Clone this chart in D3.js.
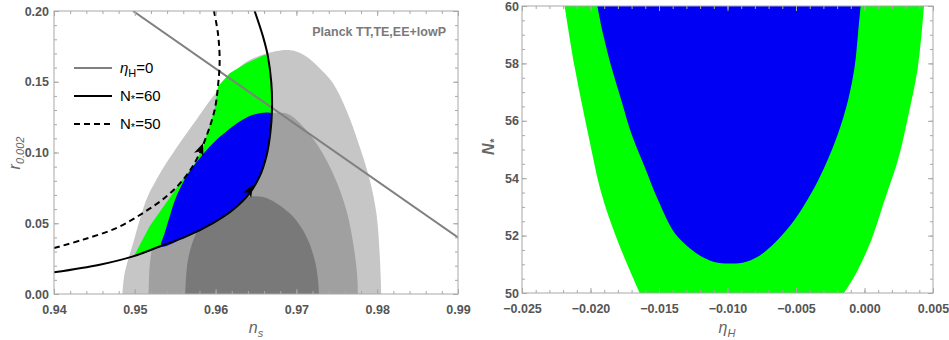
<!DOCTYPE html>
<html>
<head>
<meta charset="utf-8">
<script src="https://cdn.jsdelivr.net/npm/d3@7"></script>
<style>
  html, body { margin: 0; padding: 0; background: #fff; }
  svg { display: block; font-family: "Liberation Sans", Arial, sans-serif; }
</style>
</head>
<body>
<svg id="chart" width="949" height="340"></svg>
<script>
// ---------- Left panel: (n_s, r) plane ----------
const nsTicks = [0.94, 0.95, 0.96, 0.97, 0.98, 0.99];
const rTicks = [0.00, 0.05, 0.10, 0.15, 0.20];

// Planck TT,TE,EE+lowP confidence contours (upper boundary, closed along r = 0)
const planckOuter = [
  [0.94846, 0], [0.94875, 0.0148], [0.9498, 0.036], [0.95143, 0.0666], [0.95267, 0.0807],
  [0.9539, 0.0925], [0.95555, 0.1066], [0.9576, 0.123], [0.95968, 0.1395], [0.96215, 0.156],
  [0.9638, 0.164], [0.96628, 0.170], [0.96875, 0.1725], [0.9696, 0.172], [0.97123, 0.1678],
  [0.97288, 0.1595], [0.97453, 0.149], [0.97618, 0.130], [0.97783, 0.104], [0.97907, 0.0807],
  [0.9799, 0.057], [0.9803, 0.029], [0.98051, 0]
];
const planckMid = [
  [0.95172, 0], [0.95184, 0.0195], [0.95233, 0.0384], [0.95328, 0.0548], [0.95473, 0.0713],
  [0.9572, 0.0901], [0.96009, 0.1066], [0.96339, 0.1195], [0.96628, 0.1266], [0.96793, 0.1282],
  [0.96917, 0.1266], [0.97082, 0.1184], [0.97247, 0.1066], [0.97412, 0.0901], [0.97536, 0.0736],
  [0.97639, 0.0548], [0.97709, 0.0336], [0.9775, 0.0148], [0.97762, 0]
];
const planckInner = [
  [0.95625, 0], [0.95658, 0.0242], [0.95762, 0.0431], [0.95927, 0.0572], [0.96174, 0.0666],
  [0.96422, 0.0689], [0.96587, 0.0685], [0.96752, 0.0642], [0.96958, 0.0548], [0.97123, 0.0407],
  [0.97226, 0.0242], [0.97267, 0.0101], [0.9728, 0]
];

// Model predictions
const etaZero = [[0.94978, 0.20], [0.99, 0.04]];
const nStar60 = [
  [0.94, 0.0153], [0.94565, 0.0207], [0.94978, 0.0266], [0.95308, 0.0336], [0.95638, 0.0407],
  [0.95968, 0.0501], [0.96215, 0.0595], [0.96422, 0.0713], [0.96545, 0.0831], [0.96628, 0.0972],
  [0.96677, 0.1136], [0.96698, 0.1301], [0.9669, 0.149], [0.96648, 0.1678], [0.96587, 0.1819],
  [0.96483, 0.20]
];
const nStar50 = [
  [0.94, 0.0325], [0.94359, 0.0384], [0.94771, 0.0466], [0.95101, 0.0572], [0.9539, 0.0689],
  [0.95597, 0.0807], [0.95762, 0.0948], [0.95885, 0.1113], [0.95988, 0.1301], [0.96029, 0.1466],
  [0.9605, 0.1654], [0.96029, 0.1842], [0.9598, 0.20]
];

// Allowed regions (68% blue, 95% green)
const regionGreenL = [
  [0.94998, 0.0278], [0.95184, 0.0478], [0.95473, 0.0713], [0.9572, 0.0901], [0.95844, 0.1031],
  [0.95885, 0.1113], [0.95988, 0.1301], [0.96029, 0.1466], [0.96174, 0.156], [0.9638, 0.163],
  [0.96607, 0.169], [0.96648, 0.1678], [0.9669, 0.149], [0.96698, 0.1301], [0.96677, 0.1136],
  [0.96628, 0.0972], [0.96545, 0.0831], [0.96422, 0.0713], [0.96215, 0.0595], [0.95968, 0.0501],
  [0.95638, 0.0407], [0.95308, 0.0336], [0.94998, 0.0272]
];
const regionBlueL = [
  [0.96698, 0.1278], [0.96628, 0.1282], [0.96463, 0.1266], [0.96298, 0.1219], [0.96133, 0.1148],
  [0.95968, 0.1066], [0.95803, 0.096], [0.95638, 0.0831], [0.95514, 0.0689], [0.95432, 0.0548],
  [0.9537, 0.0431], [0.95328, 0.0336], [0.95638, 0.0407], [0.95968, 0.0501], [0.96215, 0.0595],
  [0.96422, 0.0713], [0.96545, 0.0831], [0.96628, 0.0972], [0.96677, 0.1136], [0.96698, 0.1278]
];

// Flow arrows along the curves: [from, to]
const flowArrows = [
  [[0.95782, 0.0972], [0.95844, 0.1066]],
  [[0.96389, 0.0701], [0.96463, 0.0772]]
];

// ---------- Right panel: (eta_H, N_*) plane ----------
const etaTicks = [-0.025, -0.020, -0.015, -0.010, -0.005, 0.000, 0.005];
const nTicks = [50, 52, 54, 56, 58, 60];

const greenBandLeft = [
  [-0.02189, 60], [-0.02116, 57.88], [-0.02018, 55.56], [-0.01921, 53.48],
  [-0.01824, 52.09], [-0.01726, 50.93], [-0.01641, 50]
];
const greenBandRight = [
  [-0.0015, 50], [-0.0006, 50.7], [0.0005, 51.85], [0.00147, 53.24],
  [0.00244, 54.63], [0.00318, 56.14], [0.0039, 57.88], [0.004343, 60]
];
const blueCore = [
  [-0.0195, 60], [-0.01909, 59.04], [-0.01848, 57.88], [-0.01775, 56.72], [-0.01702, 55.56],
  [-0.01605, 54.40], [-0.01507, 53.24], [-0.01386, 52.09], [-0.0128, 51.58], [-0.0118, 51.25],
  [-0.0107, 51.05], [-0.0098, 51.03], [-0.0089, 51.05], [-0.0078, 51.26], [-0.00656, 51.74],
  [-0.0051, 52.55], [-0.00388, 53.48], [-0.00291, 54.40], [-0.00193, 55.56], [-0.0012, 56.72],
  [-0.00072, 57.88], [-0.00047, 59.04], [-0.00028, 60]
];

// ---------- Drawing ----------
const svg = d3.select("#chart");
const TICK_COLOR = "#555";
const FRAME_COLOR = "#a8a8a8";
const GREEN = "#00ff00";
const BLUE = "#0000f5";

function frame(g, x, y, xMajor, yMajor, xMinorStep, yMinorStep, xFmt, yFmt, yPad) {
  const [x0, x1] = x.domain();
  const [y0, y1] = y.domain();
  const xMinor = d3.range(Math.round((x1 - x0) / xMinorStep) + 1).map(i => x0 + i * xMinorStep);
  const yMinor = d3.range(Math.round((y1 - y0) / yMinorStep) + 1).map(i => y0 + i * yMinorStep);
  const [xa, xb] = x.range();
  const [ya, yb] = y.range();

  const styleAxis = sel => {
    sel.select(".domain").remove();
    sel.selectAll("line").attr("stroke", FRAME_COLOR);
  };
  // minor ticks on all four sides
  g.append("g").attr("transform", `translate(0,${ya})`)
    .call(d3.axisBottom(x).tickValues(xMinor).tickSize(-3).tickFormat("")).call(styleAxis);
  g.append("g").attr("transform", `translate(0,${yb})`)
    .call(d3.axisTop(x).tickValues(xMinor).tickSize(-3).tickFormat("")).call(styleAxis);
  g.append("g").attr("transform", `translate(${xa},0)`)
    .call(d3.axisLeft(y).tickValues(yMinor).tickSize(-3).tickFormat("")).call(styleAxis);
  g.append("g").attr("transform", `translate(${xb},0)`)
    .call(d3.axisRight(y).tickValues(yMinor).tickSize(-3).tickFormat("")).call(styleAxis);
  // major ticks with labels
  const bx = g.append("g").attr("transform", `translate(0,${ya})`)
    .call(d3.axisBottom(x).tickValues(xMajor).tickSize(-5).tickPadding(11).tickFormat(xFmt));
  bx.call(styleAxis);
  const ly = g.append("g").attr("transform", `translate(${xa},0)`)
    .call(d3.axisLeft(y).tickValues(yMajor).tickSize(-5).tickPadding(yPad).tickFormat(yFmt));
  ly.call(styleAxis);
  g.append("g").attr("transform", `translate(0,${yb})`)
    .call(d3.axisTop(x).tickValues(xMajor).tickSize(-5).tickFormat("")).call(styleAxis);
  g.append("g").attr("transform", `translate(${xb},0)`)
    .call(d3.axisRight(y).tickValues(yMajor).tickSize(-5).tickFormat("")).call(styleAxis);
  [bx, ly].forEach(a => a.selectAll("text")
    .attr("fill", TICK_COLOR).attr("font-weight", "bold").attr("font-size", 12.5)
    .attr("font-family", "Liberation Sans, Arial, sans-serif"));
  // frame
  g.append("rect").attr("x", xa).attr("y", yb).attr("width", xb - xa).attr("height", ya - yb)
    .attr("fill", "none").attr("stroke", FRAME_COLOR).attr("stroke-width", 1);
}

// ----- Left panel -----
const xL = d3.scaleLinear().domain([0.94, 0.99]).range([54, 458]);
const yL = d3.scaleLinear().domain([0, 0.20]).range([294, 11]);
const left = svg.append("g");

left.append("clipPath").attr("id", "clipL").append("rect")
  .attr("x", 54).attr("y", 11).attr("width", 404).attr("height", 283);
const plotL = left.append("g").attr("clip-path", "url(#clipL)");

const smoothL = d3.line().x(d => xL(d[0])).y(d => yL(d[1])).curve(d3.curveCatmullRom.alpha(0.5));
const linL = d3.line().x(d => xL(d[0])).y(d => yL(d[1]));

plotL.append("path").attr("d", smoothL(planckOuter) + "Z").attr("fill", "#c6c6c6");
plotL.append("path").attr("d", smoothL(planckMid) + "Z").attr("fill", "#a0a0a0");
plotL.append("path").attr("d", smoothL(planckInner) + "Z").attr("fill", "#797979");

plotL.append("path").attr("d", linL(regionGreenL) + "Z").attr("fill", GREEN);
plotL.append("path").attr("d", smoothL(regionBlueL) + "Z").attr("fill", BLUE);

plotL.append("path").attr("d", linL(etaZero)).attr("fill", "none")
  .attr("stroke", "#808080").attr("stroke-width", 2);
plotL.append("path").attr("d", smoothL(nStar50)).attr("fill", "none")
  .attr("stroke", "#000").attr("stroke-width", 2).attr("stroke-dasharray", "6,4");
plotL.append("path").attr("d", smoothL(nStar60)).attr("fill", "none")
  .attr("stroke", "#000").attr("stroke-width", 2);

flowArrows.forEach(([a, b]) => {
  const x1 = xL(b[0]), y1 = yL(b[1]);
  const ang = Math.atan2(y1 - yL(a[1]), x1 - xL(a[0])) * 180 / Math.PI;
  plotL.append("path").attr("d", "M0,0 L-12,-5 L-9,0 L-12,5 Z")
    .attr("transform", `translate(${x1},${y1}) rotate(${ang})`).attr("fill", "#000");
});

frame(left, xL, yL, nsTicks, rTicks, 0.002, 0.01, d3.format(".2f"), d3.format(".2f"), 5);

// left axis titles
left.append("text").attr("x", 256).attr("y", 333).attr("text-anchor", "middle")
  .attr("fill", "#666").attr("font-size", 16).attr("font-style", "italic")
  .call(t => {
    t.append("tspan").text("n");
    t.append("tspan").attr("font-size", 11).attr("dy", 4).text("s");
  });
left.append("text").attr("transform", "translate(20,153) rotate(-90)").attr("text-anchor", "middle")
  .attr("fill", "#666").attr("font-size", 16).attr("font-style", "italic")
  .call(t => {
    t.append("tspan").text("r");
    t.append("tspan").attr("font-size", 11).attr("dy", 4).text("0.002");
  });

// annotation
left.append("text").attr("x", 446).attr("y", 36).attr("text-anchor", "end")
  .attr("fill", "#7a7a7a").attr("font-weight", "bold").attr("font-size", 12.5)
  .text("Planck TT,TE,EE+lowP");

// legend
const legendItems = [
  { color: "#808080", dash: null, sym: "η", sub: "H", symItalic: true, val: "=0" },
  { color: "#000", dash: null, sym: "N", sub: "*", symItalic: false, val: "=60" },
  { color: "#000", dash: "6,4", sym: "N", sub: "*", symItalic: false, val: "=50" }
];
legendItems.forEach((d, i) => {
  const yy = 68 + i * 28;
  left.append("line").attr("x1", 74).attr("x2", 112).attr("y1", yy).attr("y2", yy)
    .attr("stroke", d.color).attr("stroke-width", 2).attr("stroke-dasharray", d.dash);
  const t = left.append("text").attr("x", 120).attr("y", yy + 5)
    .attr("font-size", 15).attr("fill", "#000");
  t.append("tspan").attr("font-style", d.symItalic ? "italic" : "normal").text(d.sym);
  t.append("tspan").attr("font-size", 11).attr("dy", d.sub === "*" ? 2 : 4).text(d.sub);
  t.append("tspan").attr("dy", d.sub === "*" ? -2 : -4).text(d.val);
});

// ----- Right panel -----
const xR = d3.scaleLinear().domain([-0.025, 0.005]).range([522, 933]);
const yR = d3.scaleLinear().domain([50, 60]).range([293, 6]);
const right = svg.append("g");
right.append("clipPath").attr("id", "clipR").append("rect")
  .attr("x", 522).attr("y", 6).attr("width", 411).attr("height", 287);
const plotR = right.append("g").attr("clip-path", "url(#clipR)");

const lineR = d3.line().x(d => xR(d[0])).y(d => yR(d[1])).curve(d3.curveCatmullRom.alpha(0.5));
plotR.append("path").attr("d", lineR(greenBandLeft) + "L" + lineR(greenBandRight).slice(1) + "Z")
  .attr("fill", GREEN);
plotR.append("path").attr("d", lineR(blueCore) + "Z").attr("fill", BLUE);

frame(right, xR, yR, etaTicks, nTicks, 0.001, 0.5, d3.format(".3f"), d3.format("d"), 3);

right.append("text").attr("x", 727).attr("y", 333).attr("text-anchor", "middle")
  .attr("fill", "#666").attr("font-size", 16).attr("font-style", "italic")
  .call(t => {
    t.append("tspan").text("η");
    t.append("tspan").attr("font-size", 11).attr("dy", 4).text("H");
  });
right.append("text").attr("transform", "translate(494,147) rotate(-90)").attr("text-anchor", "middle")
  .attr("fill", "#666").attr("font-size", 16).attr("font-style", "italic").attr("font-weight", "bold")
  .call(t => {
    t.append("tspan").text("N");
    t.append("tspan").attr("font-size", 11).attr("dy", 4).text("*");
  });
</script>
</body>
</html>
